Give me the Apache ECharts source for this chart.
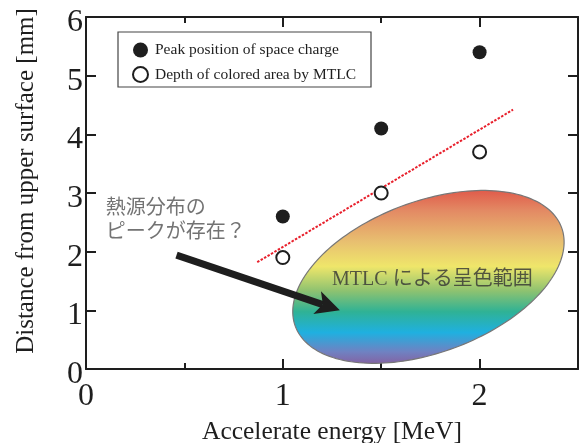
<!DOCTYPE html>
<html>
<head>
<meta charset="utf-8">
<script src="https://cdn.jsdelivr.net/npm/echarts@6/dist/echarts.min.js"></script>
<style>html,body{margin:0;padding:0;background:#fff}#c{width:581px;height:443px}</style>
</head>
<body>
<div id="c"></div>
<script>
// ---- data ----
const energies = [1, 1.5, 2];
const peakPosition = [2.6, 4.1, 5.4];
const coloredDepth = [1.9, 3.0, 3.7];
const trendX = [0.87, 2.17];
const trendY = [1.82, 4.42];
const xTickLabels = ['0', '1', '2'];
const yTickLabels = ['0', '1', '2', '3', '4', '5', '6'];
const ellipseCenter = [1.74, 1.57];
const arrowFrom = [0.46, 1.94];
const arrowTo = [1.29, 1.0];
const noteHeat = '熱源分布の\nピークが存在？';
const notePos = [0.1, 2.56];
const noteMTLC = 'MTLC による呈色範囲';
const mtlcPos = [1.76, 1.52];
const seriesNames = ['Peak position of space charge', 'Depth of colored area by MTLC'];

const serif = 'Liberation Serif, Times New Roman, serif';
const ink = '#1e1e1e';

const chart = echarts.init(document.getElementById('c'), null, {renderer: 'canvas'});

function baseX(show) {
  return {
    type: 'value', min: 0, max: 2.5, interval: 1,
    axisLine: {show: true, onZero: false, lineStyle: {color: ink, width: 2}},
    axisTick: {show: true, inside: true, length: 10, lineStyle: {color: ink, width: 2}},
    minorTick: {show: true, splitNumber: 2, length: 6, lineStyle: {color: ink, width: 2}},
    splitLine: {show: false}, minorSplitLine: {show: false},
    axisLabel: {show: show, margin: 12, fontFamily: serif, fontSize: 32, color: ink,
      formatter: v => { const i = xTickLabels.indexOf(String(v)); return i >= 0 ? xTickLabels[i] : ''; }}
  };
}
function baseY(show) {
  return {
    type: 'value', min: 0, max: 6, interval: 1,
    axisLine: {show: true, onZero: false, lineStyle: {color: ink, width: 2}},
    axisTick: {show: true, inside: true, length: 10, lineStyle: {color: ink, width: 2}},
    splitLine: {show: false},
    axisLabel: {show: show, margin: 3,
      formatter: v => '{t|' + (yTickLabels[Math.round(v)] || '') + '}',
      rich: {t: {fontFamily: serif, fontSize: 32, color: ink, padding: [11, 0, 0, 0]}}}
  };
}

const xBottom = Object.assign(baseX(true), {
  position: 'bottom', name: 'Accelerate energy [MeV]', nameLocation: 'middle', nameGap: 50,
  nameTextStyle: {fontFamily: serif, fontSize: 25.5, color: ink}
});
const xTop = Object.assign(baseX(false), {position: 'top'});
const yLeft = Object.assign(baseY(true), {
  position: 'left', name: 'Distance from upper surface [mm]', nameLocation: 'middle', nameGap: 47,
  nameTextStyle: {fontFamily: serif, fontSize: 25, color: ink, padding: [0, 0, 0, 24]}
});
const yRight = Object.assign(baseY(false), {position: 'right'});

const ellipseData = [ellipseCenter];
const A = 142, B = 75.6, TH = 20.4 * Math.PI / 180;

const option = {
  animation: false,
  backgroundColor: '#fff',
  grid: {left: 86, right: 3, top: 17, bottom: 74, containLabel: false, outerBoundsMode: 'none'},
  xAxis: [xBottom, xTop],
  yAxis: [yLeft, yRight],
  legend: {
    data: seriesNames, orient: 'vertical', left: 118, top: 32,
    padding: [10, 15, 4, 14], itemGap: 8, itemWidth: 19, itemHeight: 15,
    borderColor: '#444', borderWidth: 1.2, backgroundColor: '#fff',
    textStyle: {fontFamily: serif, fontSize: 15.5, color: ink}
  },
  series: [
    {
      type: 'custom', name: 'ellipse', z: 1, clip: false, silent: true,
      data: ellipseData,
      renderItem: function (params, api) {
        const c = api.coord([api.value(0), api.value(1)]);
        const pts = [];
        for (let i = 0; i < 180; i++) {
          const t = i / 180 * Math.PI * 2;
          const ex = A * Math.cos(t), ey = B * Math.sin(t);
          pts.push([c[0] + ex * Math.cos(TH) - ey * Math.sin(TH), c[1] - (ex * Math.sin(TH) + ey * Math.cos(TH))]);
        }
        return {
          type: 'polygon', shape: {points: pts},
          style: {
            fill: new echarts.graphic.LinearGradient(0, 0, 0, 1, [
              {offset: 0, color: '#e05a4a'},
              {offset: 0.12, color: '#e38a64'},
              {offset: 0.3, color: '#e8c070'},
              {offset: 0.44, color: '#efe66a'},
              {offset: 0.58, color: '#8ec270'},
              {offset: 0.7, color: '#2fb295'},
              {offset: 0.82, color: '#1fb0e0'},
              {offset: 0.93, color: '#6f82c2'},
              {offset: 1, color: '#8462a2'}
            ]),
            stroke: '#777', lineWidth: 1.2
          }
        };
      }
    },
    {
      type: 'line', name: 'trend', z: 3, symbol: 'none', silent: true,
      data: trendX.map((x, i) => [x, trendY[i]]),
      lineStyle: {color: '#e8202c', width: 2, type: [2.5, 1.5]}
    },
    {
      type: 'custom', name: 'arrow', z: 4, clip: false, silent: true,
      data: [[arrowFrom[0], arrowFrom[1], arrowTo[0], arrowTo[1]]],
      renderItem: function (params, api) {
        const p0 = api.coord([api.value(0), api.value(1)]);
        const p1 = api.coord([api.value(2), api.value(3)]);
        const dx = p1[0] - p0[0], dy = p1[1] - p0[1];
        const len = Math.hypot(dx, dy);
        const ux = dx / len, uy = dy / len, nx = -uy, ny = ux;
        const L = 24, W = 12, notch = 6;
        const base = [p1[0] - ux * (L - notch), p1[1] - uy * (L - notch)];
        return {
          type: 'group',
          children: [
            {type: 'line', shape: {x1: p0[0], y1: p0[1], x2: base[0], y2: base[1]},
             style: {stroke: ink, lineWidth: 7}},
            {type: 'polygon', shape: {points: [
              p1,
              [p1[0] - ux * L + nx * W, p1[1] - uy * L + ny * W],
              base,
              [p1[0] - ux * L - nx * W, p1[1] - uy * L - ny * W]
            ]}, style: {fill: ink}}
          ]
        };
      }
    },
    {
      type: 'scatter', name: seriesNames[0], z: 5, symbol: 'circle', symbolSize: 14,
      data: energies.map((x, i) => [x, peakPosition[i]]),
      itemStyle: {color: ink, opacity: 1}
    },
    {
      type: 'scatter', name: seriesNames[1], z: 5, symbol: 'circle', symbolSize: 13,
      data: energies.map((x, i) => [x, coloredDepth[i]]),
      itemStyle: {color: '#fff', borderColor: ink, borderWidth: 2, opacity: 1}
    },
    {
      type: 'scatter', name: 'notes', z: 6, symbolSize: 0, silent: true,
      data: [
        {value: notePos, name: noteHeat,
         label: {show: true, position: 'right', distance: 0, formatter: '{b}', align: 'left',
           fontFamily: 'Noto Sans CJK JP', fontSize: 20, lineHeight: 24, color: '#505050'}},
        {value: mtlcPos, name: noteMTLC,
         label: {show: true, position: 'inside', formatter: '{b}',
           fontFamily: 'Liberation Serif, Noto Sans CJK JP', fontSize: 20, color: '#333'}}
      ]
    }
  ]
};
chart.setOption(option);
</script>
</body>
</html>
